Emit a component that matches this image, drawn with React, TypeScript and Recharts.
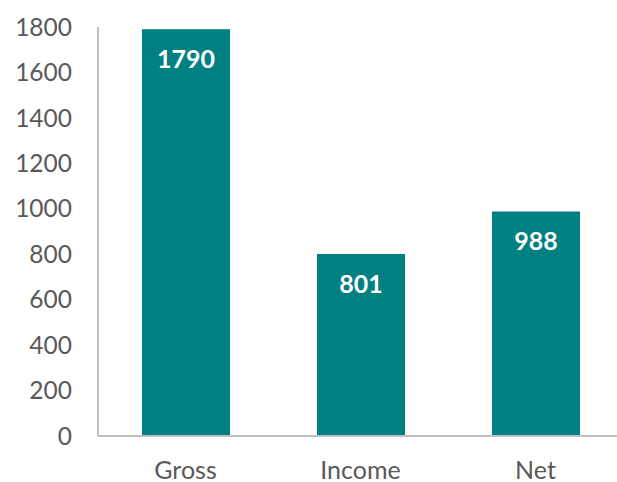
import { BarChart, Bar, XAxis, YAxis, LabelList } from 'recharts';

const categories = ['Gross', 'Income', 'Net'];
const values = [1790, 801, 988];
const yTicks = [0, 200, 400, 600, 800, 1000, 1200, 1400, 1600, 1800];

const data = categories.map((name, i) => ({ name, value: values[i] }));

const font = 'Lato, "Open Sans", sans-serif';

export default function App() {
  return (
    <div style={{ position: 'absolute', left: 0, top: 0, width: 617, height: 482, overflow: 'hidden', background: '#fff' }}>
      <BarChart
        width={623}
        height={482}
        data={data}
        margin={{ top: 27, right: 0, bottom: 0, left: 0 }}
      >
        <XAxis
          dataKey="name"
          height={46}
          axisLine={{ stroke: '#bfbfbf', strokeWidth: 2 }}
          tickLine={false}
          tickSize={0}
          tickMargin={25}
          tick={{ fill: '#595959', fontSize: 25, fontFamily: font }}
          interval={0}
        />
        <YAxis
          width={98}
          domain={[0, 1800]}
          ticks={yTicks}
          interval={0}
          axisLine={{ stroke: '#bfbfbf', strokeWidth: 2 }}
          tickLine={false}
          tickSize={0}
          tickMargin={26}
          tick={{ fill: '#595959', fontSize: 24.5, fontFamily: font }}
        />
        <Bar dataKey="value" fill="#008080" barSize={88} isAnimationActive={false}>
          <LabelList
            dataKey="value"
            position="insideTop"
            offset={21}
            fill="#ffffff"
            style={{ fontSize: 25, fontWeight: 700, fontFamily: font }}
          />
        </Bar>
      </BarChart>
    </div>
  );
}
